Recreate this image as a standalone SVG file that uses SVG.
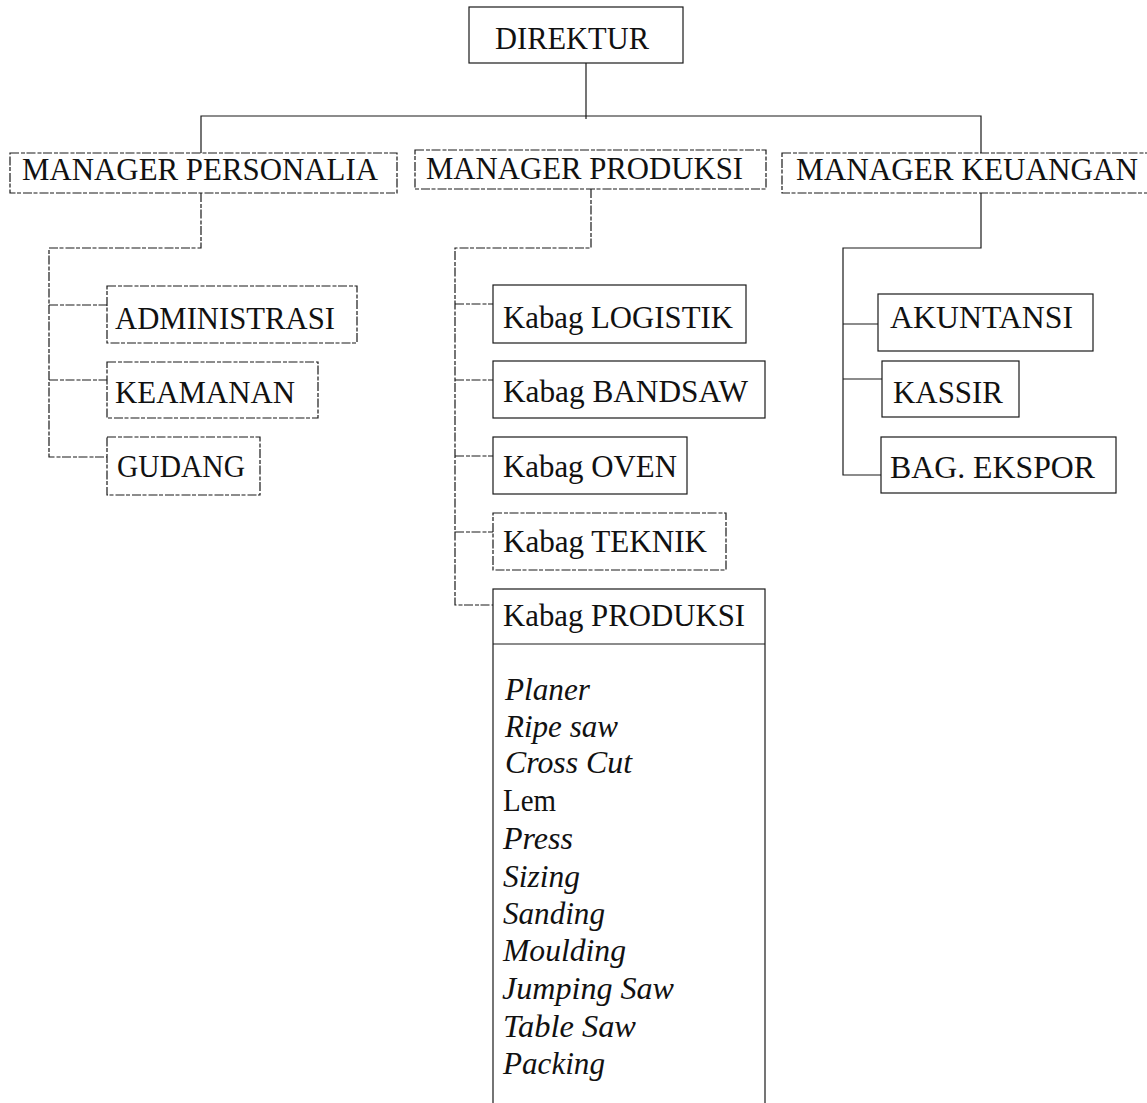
<svg xmlns="http://www.w3.org/2000/svg" width="1147" height="1103" viewBox="0 0 1147 1103">
<style>
  .box { fill: #fff; stroke: #1a1a1a; stroke-width: 1.2; }
  .dash { stroke-dasharray: 9 2 4 1.5; }
  .lbl { font-family: "Liberation Serif", "Times New Roman", serif; font-size: 32px; fill: #111; }
  .it { font-family: "Liberation Serif", "Times New Roman", serif; font-size: 31px; font-style: italic; fill: #111; }
  .rm { font-family: "Liberation Serif", "Times New Roman", serif; font-size: 31px; fill: #111; }
  .conn { fill: none; stroke: #1a1a1a; stroke-width: 1.2; }
</style>
<rect width="1147" height="1103" fill="#fff"/>

<g id="connectors">
  <path class="conn" d="M586,63 V119"/>
  <path class="conn" d="M201,153 V116 H981 V153"/>
  <path class="conn dash" d="M201,193 V248 H49 V457 H107 M49,305 H107 M49,380 H107"/>
  <path class="conn dash" d="M591,189 V248 H455 V605 H493 M455,304 H493 M455,380 H493 M455,456 H493 M455,532 H493"/>
  <path class="conn" d="M981,193 V248 H843 V475 H881 M843,324 H878 M843,379 H882"/>
</g>

<g id="direktur">
  <rect class="box" x="469" y="7" width="214" height="56"/>
  <text class="lbl" x="495" y="49" textLength="154" lengthAdjust="spacingAndGlyphs">DIREKTUR</text>
</g>

<g id="manager-personalia">
  <rect class="box dash" x="10" y="153" width="387" height="40"/>
  <text class="lbl" x="22" y="180" textLength="356" lengthAdjust="spacingAndGlyphs">MANAGER PERSONALIA</text>
</g>
<g id="manager-produksi">
  <rect class="box dash" x="415" y="150" width="351" height="39"/>
  <text class="lbl" x="426" y="179" textLength="317" lengthAdjust="spacingAndGlyphs">MANAGER PRODUKSI</text>
</g>
<g id="manager-keuangan">
  <rect class="box dash" x="782" y="153" width="380" height="40"/>
  <text class="lbl" x="796" y="180" textLength="342" lengthAdjust="spacingAndGlyphs">MANAGER KEUANGAN</text>
</g>

<g id="administrasi">
  <rect class="box dash" x="107" y="286" width="250" height="57"/>
  <text class="lbl" x="115" y="329" textLength="220" lengthAdjust="spacingAndGlyphs">ADMINISTRASI</text>
</g>
<g id="keamanan">
  <rect class="box dash" x="107" y="362" width="211" height="56"/>
  <text class="lbl" x="115" y="403" textLength="180" lengthAdjust="spacingAndGlyphs">KEAMANAN</text>
</g>
<g id="gudang">
  <rect class="box dash" x="107" y="437" width="153" height="58"/>
  <text class="lbl" x="117" y="477" textLength="128" lengthAdjust="spacingAndGlyphs">GUDANG</text>
</g>

<g id="kabag-logistik">
  <rect class="box" x="493" y="285" width="253" height="58"/>
  <text class="lbl" x="503" y="328" textLength="230" lengthAdjust="spacingAndGlyphs">Kabag LOGISTIK</text>
</g>
<g id="kabag-bandsaw">
  <rect class="box" x="493" y="361" width="272" height="57"/>
  <text class="lbl" x="503" y="402" textLength="245" lengthAdjust="spacingAndGlyphs">Kabag BANDSAW</text>
</g>
<g id="kabag-oven">
  <rect class="box" x="493" y="437" width="194" height="57"/>
  <text class="lbl" x="503" y="477" textLength="174" lengthAdjust="spacingAndGlyphs">Kabag OVEN</text>
</g>
<g id="kabag-teknik">
  <rect class="box dash" x="493" y="513" width="233" height="57"/>
  <text class="lbl" x="503" y="552" textLength="204" lengthAdjust="spacingAndGlyphs">Kabag TEKNIK</text>
</g>
<g id="kabag-produksi">
  <rect class="box" x="493" y="589" width="272" height="530"/>
  <line class="conn" x1="493" y1="644" x2="765" y2="644"/>
  <text class="lbl" x="503" y="626" textLength="242" lengthAdjust="spacingAndGlyphs">Kabag PRODUKSI</text>
  <text class="it" x="505" y="700" textLength="85" lengthAdjust="spacingAndGlyphs">Planer</text>
  <text class="it" x="505" y="737" textLength="113" lengthAdjust="spacingAndGlyphs">Ripe saw</text>
  <text class="it" x="505" y="773" textLength="127" lengthAdjust="spacingAndGlyphs">Cross Cut</text>
  <text class="rm" x="503" y="811" textLength="53" lengthAdjust="spacingAndGlyphs">Lem</text>
  <text class="it" x="503" y="849" textLength="70" lengthAdjust="spacingAndGlyphs">Press</text>
  <text class="it" x="503" y="887" textLength="77" lengthAdjust="spacingAndGlyphs">Sizing</text>
  <text class="it" x="503" y="924" textLength="102" lengthAdjust="spacingAndGlyphs">Sanding</text>
  <text class="it" x="503" y="961" textLength="123" lengthAdjust="spacingAndGlyphs">Moulding</text>
  <text class="it" x="502" y="999" textLength="172" lengthAdjust="spacingAndGlyphs">Jumping Saw</text>
  <text class="it" x="503" y="1037" textLength="133" lengthAdjust="spacingAndGlyphs">Table Saw</text>
  <text class="it" x="503" y="1074" textLength="102" lengthAdjust="spacingAndGlyphs">Packing</text>
</g>

<g id="akuntansi">
  <rect class="box" x="878" y="294" width="215" height="57"/>
  <text class="lbl" x="890" y="328" textLength="183" lengthAdjust="spacingAndGlyphs">AKUNTANSI</text>
</g>
<g id="kassir">
  <rect class="box" x="882" y="361" width="137" height="56"/>
  <text class="lbl" x="893" y="403" textLength="110" lengthAdjust="spacingAndGlyphs">KASSIR</text>
</g>
<g id="bag-ekspor">
  <rect class="box" x="881" y="437" width="235" height="56"/>
  <text class="lbl" x="890" y="478" textLength="205" lengthAdjust="spacingAndGlyphs">BAG. EKSPOR</text>
</g>
</svg>
